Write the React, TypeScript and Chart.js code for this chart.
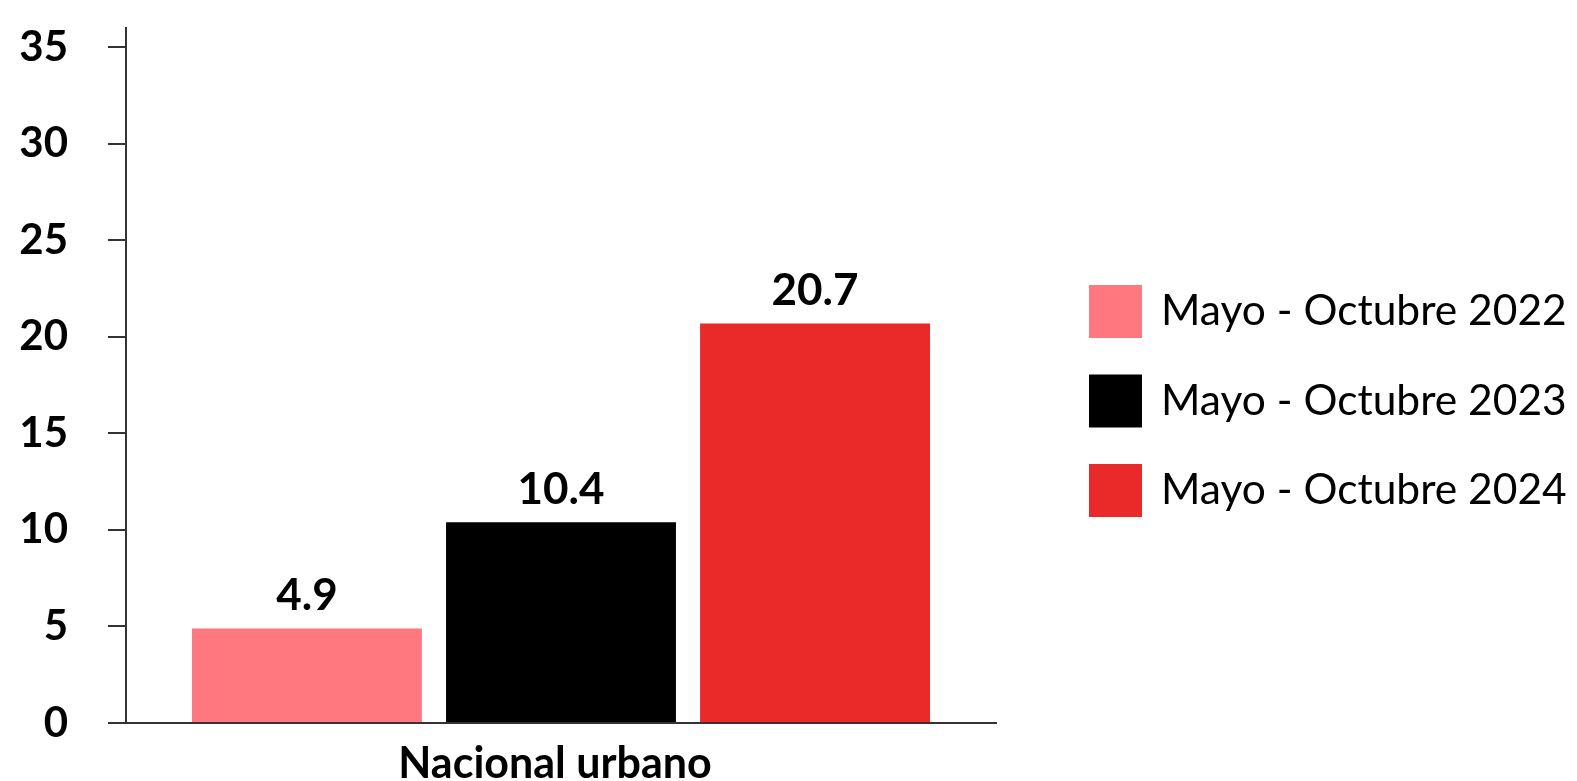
import React, { useEffect, useRef } from "react";
import { Chart, registerables } from "chart.js";

Chart.register(...registerables);

const categories = ["Nacional urbano"];
const seriesLabels = ["Mayo - Octubre 2022", "Mayo - Octubre 2023", "Mayo - Octubre 2024"];
const values2022 = [4.9];
const values2023 = [10.4];
const values2024 = [20.7];
const seriesColors = ["#FF7880", "#000000", "#E92A29"];
const yTickValues = [0, 5, 10, 15, 20, 25, 30, 35];
const yMax = 36;

const FONT = "Lato";

const valueLabelPlugin = {
  id: "valueLabels",
  afterDatasetsDraw(chart: any) {
    const ctx = chart.ctx;
    ctx.save();
    ctx.fillStyle = "#000";
    ctx.font = `bold 44px ${FONT}`;
    ctx.textAlign = "center";
    ctx.textBaseline = "alphabetic";
    chart.data.datasets.forEach((ds: any, i: number) => {
      const meta = chart.getDatasetMeta(i);
      meta.data.forEach((bar: any, j: number) => {
        ctx.fillText(Number(ds.data[j]).toFixed(1), bar.x, bar.y - 18);
      });
    });
    ctx.restore();
  },
};

const sideLegendPlugin = {
  id: "sideLegend",
  afterDraw(chart: any) {
    const ctx = chart.ctx;
    const boxX = 1089;
    const top = 285;
    const step = 89.5;
    const size = 53;
    ctx.save();
    ctx.font = `42.5px ${FONT}`;
    ctx.textAlign = "left";
    ctx.textBaseline = "alphabetic";
    chart.data.datasets.forEach((ds: any, i: number) => {
      const y = top + i * step;
      ctx.fillStyle = ds.backgroundColor;
      ctx.fillRect(boxX, y, size, size);
      ctx.fillStyle = "#000";
      ctx.fillText(ds.label, boxX + size + 19, y + 40);
    });
    ctx.restore();
  },
};

export default function App() {
  const canvasRef = useRef<HTMLCanvasElement | null>(null);

  useEffect(() => {
    document.body.style.margin = "0";
    let chart: Chart | null = null;
    let cancelled = false;
    const make = () => {
      if (cancelled || !canvasRef.current) return;
      chart = new Chart(canvasRef.current, {
        type: "bar",
        data: {
          labels: categories,
          datasets: [
            { label: seriesLabels[0], data: values2022, backgroundColor: seriesColors[0] },
            { label: seriesLabels[1], data: values2023, backgroundColor: seriesColors[1] },
            { label: seriesLabels[2], data: values2024, backgroundColor: seriesColors[2] },
          ],
        },
        options: {
          animation: false,
          responsive: false,
          devicePixelRatio: 1,
          categoryPercentage: 0.876,
          barPercentage: 0.905,
          layout: { padding: { top: 28, right: 581, bottom: 0, left: 0 } },
          plugins: {
            legend: { display: false },
            tooltip: { enabled: false },
          },
          scales: {
            x: {
              grid: { display: false, drawTicks: false },
              border: { color: "#333", width: 2 },
              ticks: {
                color: "#000",
                padding: 15,
                labelOffset: -6,
                font: { family: FONT, weight: "bold", size: 43 },
              },
              afterFit: (scale: any) => {
                scale.height = 58;
                scale.paddingLeft = 0;
                scale.paddingRight = 0;
              },
            },
            y: {
              min: 0,
              max: yMax,
              afterBuildTicks: (scale: any) => {
                scale.ticks = yTickValues.map((v) => ({ value: v }));
              },
              afterFit: (scale: any) => {
                scale.width = 126;
                scale.paddingTop = 0;
                scale.paddingBottom = 0;
              },
              ticks: {
                color: "#000",
                padding: 40,
                font: { family: FONT, weight: "bold", size: 42 },
              },
              grid: {
                drawOnChartArea: false,
                drawTicks: true,
                tickLength: 18,
                color: "#333",
                lineWidth: 2,
              },
              border: { color: "#333", width: 2 },
            },
          },
        },
        plugins: [valueLabelPlugin, sideLegendPlugin],
      } as any);
    };
    const fonts = (document as any).fonts;
    if (fonts && fonts.load) {
      Promise.all([
        fonts.load(`bold 42px ${FONT}`),
        fonts.load(`42.5px ${FONT}`),
      ]).then(make, make);
    } else {
      make();
    }
    return () => {
      cancelled = true;
      if (chart) chart.destroy();
    };
  }, []);

  return (
    <div style={{ position: "relative", width: 1577, height: 781 }}>
      <canvas ref={canvasRef} width={1577} height={781} />
    </div>
  );
}
